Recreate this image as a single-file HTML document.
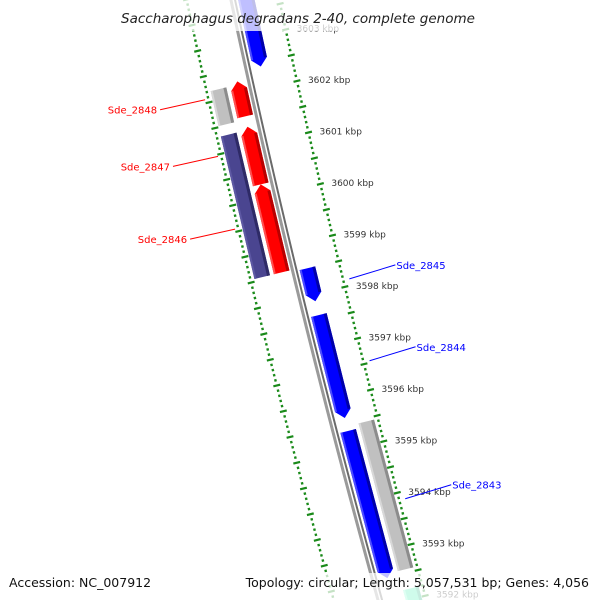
<!DOCTYPE html>
<html><head><meta charset="utf-8"><style>
html,body{margin:0;background:#fff;width:600px;height:600px;overflow:hidden;}
svg{display:block;font-family:"DejaVu Sans","Liberation Sans",sans-serif;}
</style></head><body>
<svg id="chart" width="600" height="600" viewBox="0 0 600 600" xmlns="http://www.w3.org/2000/svg" overflow="hidden">
<g id="ringLayer"></g>
<g id="geneLayer"></g>
<g id="labelLayer"></g>
<rect x="0" y="0" width="600" height="31" fill="#fff" opacity="0.75"/>
<rect x="0" y="573" width="600" height="27" fill="#fff" opacity="0.75"/>
<g id="nameLayer"></g>
<text x="298" y="23" text-anchor="middle" font-size="13.5" font-style="italic" fill="#222">Saccharophagus degradans 2-40, complete genome</text>
<text x="9" y="587" font-size="12.5" fill="#111">Accession: NC_007912</text>
<text x="589" y="587" text-anchor="end" font-size="12.5" fill="#111">Topology: circular; Length: 5,057,531 bp; Genes: 4,056</text>
</svg>
<script>
const tickKbp = [3603,3602,3601,3600,3599,3598,3597,3596,3595,3594,3593,3592];
const geneStart = [3602.43,3601.58,3600.26,3598.55,3601.52,3598.55,3597.87,3595.60,3592.49,3592.57,3590.8,3590.8];
const geneEnd   = [3603.80,3602.26,3601.38,3600.26,3602.20,3601.32,3598.51,3597.60,3595.35,3595.44,3591.91,3592.20];
const geneStrand= [-1,1,1,1,0,0,-1,-1,-1,0,-1,0];
const geneTrack = [1,-1,-1,-1,-2,-2,1,1,1,2,1,2];
const geneKind  = ["blue","red","red","red","grey","purple","blue","blue","blue","grey","blue","teal"];
const geneNames = ["Sde_2848","Sde_2847","Sde_2846","Sde_2845","Sde_2844","Sde_2843"];
const geneNameIdx = [1,2,3,6,7,8];

const NS="http://www.w3.org/2000/svg";
const th=13.77*Math.PI/180, S=Math.sin(th), C=Math.cos(th);
const PX=53, U0=41.4;
function pt(kbp,v){
  const u=U0+(3603-kbp)*PX;
  const y=u*C - v*S;
  let x=233+u*S+v*C;
  x += 5.3e-5*y*(y-600);
  return [x,y];
}
function mk(tag,attrs,parent){const e=document.createElementNS(NS,tag);for(const k in attrs)e.setAttribute(k,attrs[k]);parent.appendChild(e);return e;}
const ringL=document.getElementById('ringLayer'), geneL=document.getElementById('geneLayer'),
      labL=document.getElementById('labelLayer'), nameL=document.getElementById('nameLayer');

{
  const a=[],b=[];
  for(let k=3604.2;k>=3590.6;k-=0.2){a.push(pt(k,-2).join(','));b.push(pt(k,2).join(','));}
  const bb=mk('polyline',{points:a.join(' '),fill:'none',stroke:'#9a9a9a','stroke-width':3},geneL);
  
  
  const bb2=mk('polyline',{points:b.join(' '),fill:'none',stroke:'#6a6a6a','stroke-width':2},geneL);
  
  
}
[-45,45].forEach(function(v){
  for(let i=0;i<=150;i++){
    const k=3604.4-i*0.1;
    const major=(Math.round(k*10)%5===0);
    const len=major?3.5:1.2;
    const p1=pt(k,v-len), p2=pt(k,v+len);
    if(p1[1]>600||p2[1]>600) continue;
    const t=mk('line',{x1:p1[0],y1:p1[1],x2:p2[0],y2:p2[1],stroke:'#1a8a1a','stroke-width':major?2.2:2.4},ringL);
    
    
  }
});
tickKbp.forEach(function(k){
  const p=pt(k,45);
  if(p[1]>598) return;
  const t=mk('text',{x:p[0]+11,y:p[1]+2,'font-size':9,fill:'#333'},labL);
  t.textContent=k+' kbp';
  
  
});
const colors={blue:['#0000ff','#0000a8','#4d4dff'],red:['#ff0000','#b80000','#ff5050'],grey:['#c0c0c0','#8c8c8c','#d8d8d8'],purple:['#4a4590','#2e2a66','#5d58a3'],teal:['#40f0b0','#20b080','#80ffd0']};
function trackV(t){const s=Math.sign(t),a=Math.abs(t);const inner=a===1?5:25;return s>0?[inner,inner+16]:[-(inner+16),-inner];}
geneStart.forEach(function(s,i){
  const e=geneEnd[i], st=geneStrand[i], vv=trackV(geneTrack[i]), c=colors[geneKind[i]];
  const v0=vv[0], v1=vv[1], vm=(v0+v1)/2, h=8/PX;
  let poly;
  if(st===1) poly=[pt(s,v0),pt(e-h,v0),pt(e,vm),pt(e-h,v1),pt(s,v1)];
  else if(st===-1) poly=[pt(e,v0),pt(s+h,v0),pt(s,vm),pt(s+h,v1),pt(e,v1)];
  else poly=[pt(s,v0),pt(e,v0),pt(e,v1),pt(s,v1)];
  const g=mk('g',{},geneL);
  
  
  mk('polygon',{points:poly.map(p=>p.join(',')).join(' '),fill:c[0]},g);
  const bs=st===-1?s+h:s, be=st===1?e-h:e;
  const sh=[pt(bs,v1-3),pt(be,v1-3),pt(be,v1),pt(bs,v1)];
  mk('polygon',{points:sh.map(p=>p.join(',')).join(' '),fill:c[1]},g);
  const hl=[pt(bs,v0),pt(be,v0),pt(be,v0+2),pt(bs,v0+2)];
  mk('polygon',{points:hl.map(p=>p.join(',')).join(' '),fill:c[2]},g);
});
geneNames.forEach(function(n,j){
  const i=geneNameIdx[j], tr=geneTrack[i], mid=(geneStart[i]+geneEnd[i])/2;
  const left=tr<0;
  const col=left?'#ff0000':'#0000ff';
  const p=pt(mid,left?-50:50);
  const anchor=left?[p[0],p[1]-8]:[p[0]+2,p[1]+3];
  const lx=left?anchor[0]-45:anchor[0]+46, ly=anchor[1]+(left?10:-14);
  const ln=mk('line',{x1:anchor[0],y1:anchor[1],x2:lx,y2:ly,stroke:col,'stroke-width':1},nameL);
  
  
  const t=mk('text',{x:left?lx-3:lx+1,y:ly+4,'font-size':10,fill:col,'text-anchor':left?'end':'start'},nameL);
  t.textContent=n;
  
  
});
</script>
</body></html>
